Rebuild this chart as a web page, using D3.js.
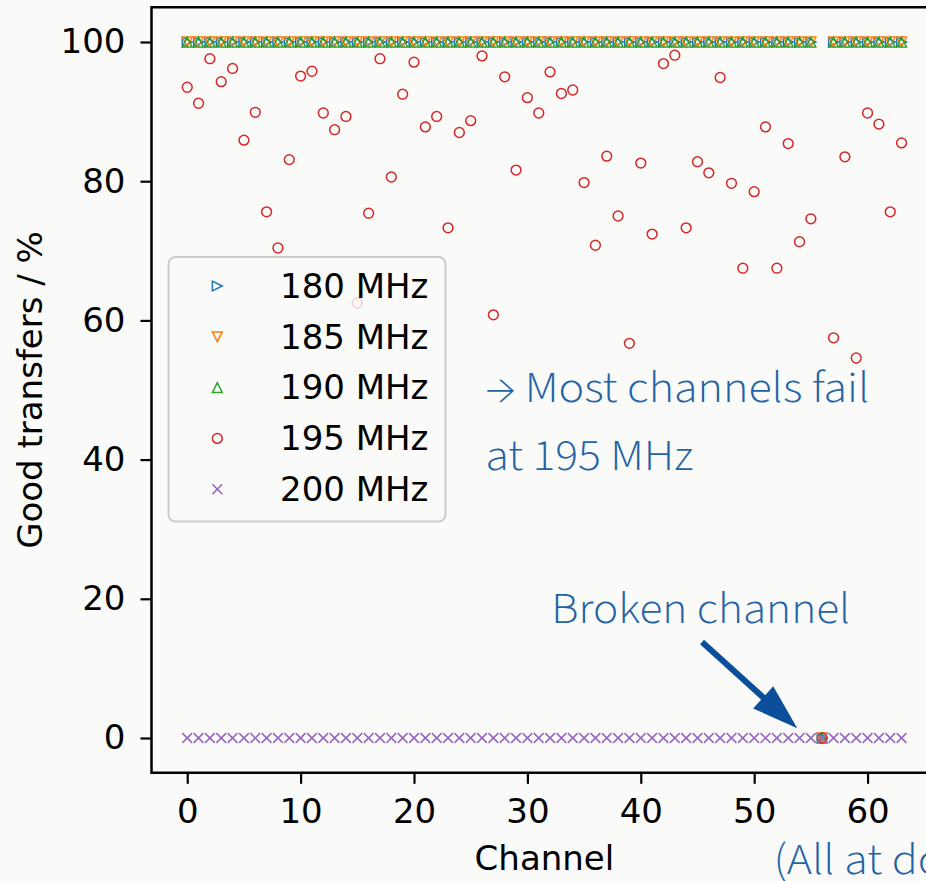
<!DOCTYPE html>
<html>
<head>
<meta charset="utf-8">
<script src="https://cdn.jsdelivr.net/npm/d3@7"></script>
<style>
  body { margin: 0; background: #fafaf8; }
  svg { display: block; }
</style>
</head>
<body>
<script>
var svgWidth = 926;
var svgHeight = 881;

// ---- data ----
var channels = [0,1,2,3,4,5,6,7,8,9,10,11,12,13,14,15,16,17,18,19,20,21,22,23,24,25,26,27,28,29,30,31,
                32,33,34,35,36,37,38,39,40,41,42,43,44,45,46,47,48,49,50,51,52,53,54,55,56,57,58,59,60,61,62,63];

var good180 = [100,100,100,100,100,100,100,100,100,100,100,100,100,100,100,100,100,100,100,100,100,100,100,100,
               100,100,100,100,100,100,100,100,100,100,100,100,100,100,100,100,100,100,100,100,100,100,100,100,
               100,100,100,100,100,100,100,100,0,100,100,100,100,100,100,100];
var good185 = [100,100,100,100,100,100,100,100,100,100,100,100,100,100,100,100,100,100,100,100,100,100,100,100,
               100,100,100,100,100,100,100,100,100,100,100,100,100,100,100,100,100,100,100,100,100,100,100,100,
               100,100,100,100,100,100,100,100,0,100,100,100,100,100,100,100];
var good190 = [100,100,100,100,100,100,100,100,100,100,100,100,100,100,100,100,100,100,100,100,100,100,100,100,
               100,100,100,100,100,100,100,100,100,100,100,100,100,100,100,100,100,100,100,100,100,100,100,100,
               100,100,100,100,100,100,100,100,0,100,100,100,100,100,100,100];
var good195 = [93.5,91.2,97.6,94.3,96.2,85.9,89.9,75.6,70.4,83.1,95.1,95.8,89.8,87.4,89.3,62.5,
               75.4,97.6,80.6,92.5,97.1,87.8,89.3,73.3,87.0,88.7,98.0,60.8,95.0,81.6,92.0,89.8,
               95.7,92.6,93.1,79.8,70.8,83.6,75.0,56.7,82.6,72.4,96.9,98.1,73.3,82.8,81.2,94.9,
               79.7,67.5,78.5,87.8,67.5,85.4,71.3,74.6,0,57.5,83.5,54.6,89.8,88.2,75.6,85.5];
var good200 = [0,0,0,0,0,0,0,0,0,0,0,0,0,0,0,0,0,0,0,0,0,0,0,0,0,0,0,0,0,0,0,0,
               0,0,0,0,0,0,0,0,0,0,0,0,0,0,0,0,0,0,0,0,0,0,0,0,0,0,0,0,0,0,0,0];

var seriesNames = ["180 MHz", "185 MHz", "190 MHz", "195 MHz", "200 MHz"];
var seriesColors = ["#1f77b4", "#ff7f0e", "#2ca02c", "#d62728", "#9467bd"];
var seriesMarkers = ["tri-right", "tri-down", "tri-up", "circle", "cross"];
var xTicks = [0, 10, 20, 30, 40, 50, 60];
var yTicks = [0, 20, 40, 60, 80, 100];

var allSeries = [good180, good185, good190, good195, good200];

// ---- layout ----
var font = "'DejaVu Sans', sans-serif";
var noteFont = "'Source Sans Pro', 'Source Sans 3', Lato, 'Open Sans', sans-serif";
var noteColor = "#2163a6";
var fontSize = 34;

var plot = { left: 151.5, right: 937.3, top: 7.2, bottom: 772.8 };

var x = d3.scaleLinear().domain([-3.15, 66.15]).range([plot.left, plot.right]);
var y = d3.scaleLinear().domain([-5, 105]).range([plot.bottom, plot.top]);

var svg = d3.select("body").append("svg")
            .attr("width", svgWidth)
            .attr("height", svgHeight)
            .style("background", "#fafaf8");

// marker path generator, s = half size
function markerPath(type, s) {
  if (type === "tri-right") return `M${s},0L${-s},${-s}L${-s},${s}Z`;
  if (type === "tri-down")  return `M0,${s}L${-s},${-s}L${s},${-s}Z`;
  if (type === "tri-up")    return `M0,${-s}L${-s},${s}L${s},${s}Z`;
  if (type === "cross")     return `M${-s},${-s}L${s},${s}M${-s},${s}L${s},${-s}`;
  return `M${s},0A${s},${s} 0 1,1 ${-s},0A${s},${s} 0 1,1 ${s},0Z`;
}
var mSize = 4.9;

// ---- axes ----
var bottomAxis = d3.axisBottom(x).tickValues(xTicks).tickSize(11).tickPadding(15);
var leftAxis = d3.axisLeft(y).tickValues(yTicks).tickSize(11).tickPadding(15);

var xAxisG = svg.append("g")
                .attr("transform", `translate(0, ${plot.bottom})`)
                .call(bottomAxis);
var yAxisG = svg.append("g")
                .attr("transform", `translate(${plot.left}, 0)`)
                .call(leftAxis);

[xAxisG, yAxisG].forEach(function(g) {
  g.select(".domain").remove();
  g.selectAll("line").attr("stroke", "#000").attr("stroke-width", 2.2);
  g.selectAll("text").attr("font-family", font).attr("font-size", fontSize).attr("fill", "#000");
});

// ---- data marks ----
var marksG = svg.append("g");
allSeries.forEach(function(vals, i) {
  marksG.append("g")
        .selectAll("path")
        .data(channels)
        .enter()
        .append("path")
        .attr("transform", d => `translate(${x(d)}, ${y(vals[d])})`)
        .attr("d", markerPath(seriesMarkers[i], mSize))
        .attr("fill", "none")
        .attr("stroke", seriesColors[i])
        .attr("stroke-width", 1.5);
});

// ---- spines ----
svg.append("path")
   .attr("d", `M${plot.left},${plot.top}L${plot.right},${plot.top}L${plot.right},${plot.bottom}L${plot.left},${plot.bottom}Z`)
   .attr("fill", "none")
   .attr("stroke", "#000")
   .attr("stroke-width", 2.5);

// ---- axis labels ----
svg.append("text")
   .attr("x", (plot.left + plot.right) / 2)
   .attr("y", 870)
   .attr("text-anchor", "middle")
   .attr("font-family", font)
   .attr("font-size", fontSize)
   .text("Channel");

svg.append("text")
   .attr("transform", `translate(42, ${(plot.top + plot.bottom) / 2}) rotate(-90)`)
   .attr("text-anchor", "middle")
   .attr("font-family", font)
   .attr("font-size", fontSize)
   .text("Good transfers / %");

// ---- legend ----
var legend = svg.append("g");
legend.append("rect")
      .attr("x", 168.5).attr("y", 257)
      .attr("width", 277).attr("height", 264.5)
      .attr("rx", 7)
      .attr("fill", "#fafaf8")
      .attr("fill-opacity", 0.8)
      .attr("stroke", "#cccccc")
      .attr("stroke-width", 2);

seriesNames.forEach(function(name, i) {
  var ly = 286 + i * 50.8;
  legend.append("path")
        .attr("transform", `translate(217.3, ${ly})`)
        .attr("d", markerPath(seriesMarkers[i], mSize))
        .attr("fill", "none")
        .attr("stroke", seriesColors[i])
        .attr("stroke-width", 1.5);
  legend.append("text")
        .attr("x", 280)
        .attr("y", ly + 11.8)
        .attr("font-family", font)
        .attr("font-size", fontSize)
        .text(name);
});

// ---- annotations ----
function note(txt, px, py, len) {
  var t = svg.append("text")
     .attr("x", px).attr("y", py)
     .attr("font-family", noteFont)
     .attr("font-weight", 300)
     .attr("font-size", 44)
     .attr("fill", noteColor)
     .text(txt);
  if (len) t.attr("textLength", len).attr("lengthAdjust", "spacingAndGlyphs");
  return t;
}
note("\u2192 Most channels fail", x(26.3), y(48.3), 384);
note("at 195 MHz", x(26.3), y(38.5), 208);
note("Broken channel", x(32.1), y(16.5), 299);
note("(All at do", x(51.7), 874, 170);

// arrow to the broken channel
var tail = [x(45.4), y(13.8)];
var tip = [x(53.8), y(1.4)];
var dx = tip[0] - tail[0], dy = tip[1] - tail[1];
var L = Math.sqrt(dx * dx + dy * dy);
var ux = dx / L, uy = dy / L;
var headLen = 46, headW = 15;
var base = [tip[0] - ux * headLen, tip[1] - uy * headLen];

svg.append("line")
   .attr("x1", tail[0]).attr("y1", tail[1])
   .attr("x2", base[0] + ux * 4).attr("y2", base[1] + uy * 4)
   .attr("stroke", "#0b4f9b")
   .attr("stroke-width", 6);
svg.append("path")
   .attr("d", `M${tip[0]},${tip[1]}L${base[0] - uy * headW},${base[1] + ux * headW}L${base[0] + uy * headW},${base[1] - ux * headW}Z`)
   .attr("fill", "#0b4f9b");
</script>
</body>
</html>
